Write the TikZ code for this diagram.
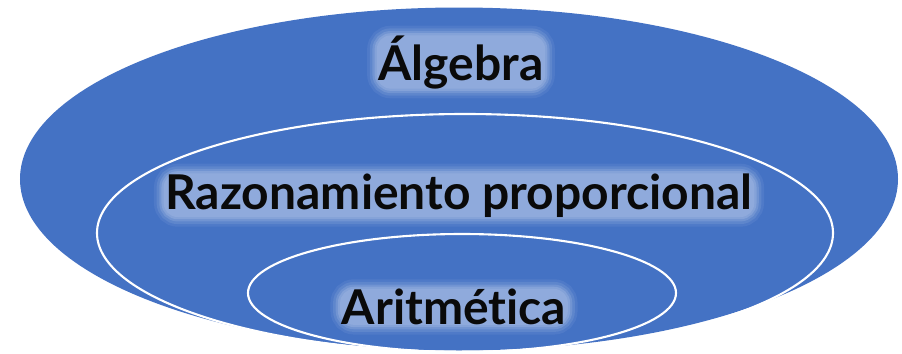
\documentclass[tikz,border=0pt]{standalone}
\usepackage{fontspec}
\setmainfont{Lato}[Ligatures=NoCommon]

\definecolor{setblue}{RGB}{68,114,196}
\definecolor{halo}{RGB}{143,170,220}
\definecolor{inkblack}{RGB}{10,10,10}

\tikzset{
  setlabel/.style={anchor=base, inner xsep=1pt, inner ysep=0pt,
    font=\fontsize{27.3}{32}\selectfont\bfseries, text=inkblack,
    rounded corners=8pt, fill=halo,
    preaction={draw=halo!15!setblue, line width=11pt},
    preaction={draw=halo!35!setblue, line width=8pt},
    preaction={draw=halo!60!setblue, line width=5pt},
    preaction={draw=halo!85!setblue, line width=2.5pt}},
  setline/.style={draw=white, line width=1.2pt}
}

\begin{document}
\begin{tikzpicture}
    \useasboundingbox (0, 0) rectangle (18.04, 7.06);

    % outer set
    \fill[setblue] (9.18, 3.48) ellipse [x radius=8.78, y radius=3.43];

    % inner sets
    \draw[setline] (9.30, 2.40) ellipse [x radius=7.36, y radius=2.38];
    \draw[setline] (9.24, 1.20) ellipse [x radius=4.28, y radius=1.18];

    \node[setlabel] (algebra) at (9.22, 5.46) {Álgebra};
    \node[setlabel] (razon) at (9.18, 2.88) {Razonamiento proporcional};
    \node[setlabel] (arit) at (9.08, 0.57) {Aritmética};

\end{tikzpicture}
\end{document}
